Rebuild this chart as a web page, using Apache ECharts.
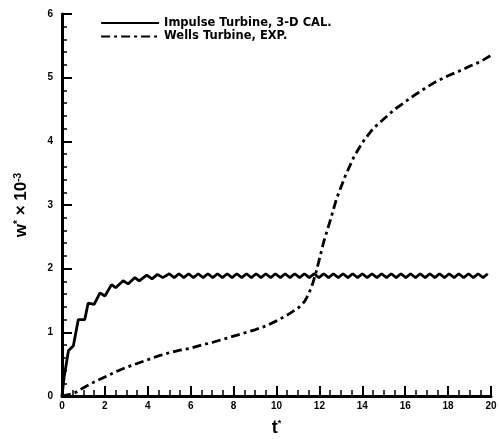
<!DOCTYPE html>
<html><head><meta charset="utf-8">
<script src="https://cdn.jsdelivr.net/npm/echarts@6/dist/echarts.min.js"></script>
<style>html,body{margin:0;padding:0;background:#fff}#c{width:499px;height:439px}</style>
</head><body><div id="c"></div>
<script>
const seriesNames = ['Impulse Turbine, 3-D CAL.', 'Wells Turbine, EXP.'];
const xTicks = [0, 2, 4, 6, 8, 10, 12, 14, 16, 18, 20];
const yTicks = [0, 1, 2, 3, 4, 5, 6];

const impulseT = [0, 0.1, 0.3, 0.53, 0.76, 1.06, 1.22, 1.5, 1.77, 2.0, 2.31, 2.5, 2.85, 3.08, 3.4, 3.6, 3.95, 4.2, 4.45, 4.7,
  5.0, 5.23, 5.45, 5.68, 5.9, 6.13, 6.35, 6.58, 6.8, 7.03, 7.25, 7.48, 7.7, 7.93, 8.15, 8.38, 8.6, 8.83, 9.05, 9.28,
  9.5, 9.73, 9.95, 10.18, 10.4, 10.63, 10.85, 11.08, 11.3, 11.53, 11.75, 11.98, 12.2, 12.43, 12.65, 12.88, 13.1, 13.33,
  13.55, 13.78, 14.0, 14.23, 14.45, 14.68, 14.9, 15.13, 15.35, 15.58, 15.8, 16.03, 16.25, 16.48, 16.7, 16.93, 17.15,
  17.38, 17.6, 17.83, 18.05, 18.28, 18.5, 18.73, 18.95, 19.18, 19.4, 19.63, 19.85];
const impulseW = [0, 0.3, 0.71, 0.79, 1.2, 1.2, 1.46, 1.44, 1.62, 1.57, 1.75, 1.7, 1.81, 1.76, 1.86, 1.81, 1.9, 1.84, 1.91, 1.86,
  1.92, 1.86, 1.92, 1.86, 1.92, 1.86, 1.92, 1.86, 1.92, 1.86, 1.92, 1.86, 1.92, 1.86, 1.92, 1.86, 1.92, 1.86, 1.92, 1.86,
  1.92, 1.86, 1.92, 1.86, 1.92, 1.86, 1.92, 1.86, 1.92, 1.86, 1.92, 1.86, 1.92, 1.86, 1.92, 1.86, 1.92, 1.86,
  1.92, 1.86, 1.92, 1.86, 1.92, 1.86, 1.92, 1.86, 1.92, 1.86, 1.92, 1.86, 1.92, 1.86, 1.92, 1.86, 1.92,
  1.86, 1.92, 1.86, 1.92, 1.86, 1.92, 1.86, 1.92, 1.86, 1.92, 1.86, 1.92];

const wellsT = [0, 0.3, 0.6, 1.0, 1.5, 2.0, 2.5, 3.0, 3.5, 4.0, 4.5, 5.0, 5.5, 6.0, 6.5, 7.0, 7.5, 8.0, 8.5, 9.0, 9.5,
  10.0, 10.5, 11.0, 11.3, 11.5, 11.7, 11.85, 12.0, 12.2, 12.5, 12.8, 13.2, 13.6, 14.0, 14.5, 15.0, 15.5, 16.0,
  16.5, 17.0, 17.5, 18.0, 18.5, 19.0, 19.5, 20.0];
const wellsW = [0, 0.02, 0.05, 0.13, 0.22, 0.3, 0.38, 0.45, 0.51, 0.57, 0.63, 0.68, 0.72, 0.75, 0.8, 0.84, 0.89, 0.94, 0.99, 1.04, 1.1,
  1.18, 1.27, 1.38, 1.48, 1.6, 1.78, 1.95, 2.15, 2.42, 2.75, 3.1, 3.45, 3.75, 3.98, 4.2, 4.35, 4.5, 4.62,
  4.74, 4.85, 4.95, 5.03, 5.1, 5.18, 5.25, 5.35];

const pairs = (xs, ys) => xs.map((x, i) => [x, ys[i]]);
const font = 'Liberation Sans, Arial, sans-serif';
const legendFont = 'DejaVu Sans, sans-serif';
const xMin = xTicks[0], xMax = xTicks[xTicks.length - 1];
const yMin = yTicks[0], yMax = yTicks[yTicks.length - 1];

const chart = echarts.init(document.getElementById('c'), null, {renderer: 'canvas'});
chart.setOption({
  animation: false,
  backgroundColor: '#fff',
  grid: {left: 62, right: 8, top: 14, bottom: 43, containLabel: false, outerBoundsMode: 'none'},
  legend: {
    orient: 'vertical', left: 95, top: 12, itemWidth: 58, itemHeight: 12, itemGap: 1.5,
    data: seriesNames,
    itemStyle: {opacity: 0},
    lineStyle: {width: 2.2},
    textStyle: {fontFamily: legendFont, fontWeight: 'bold', fontSize: 11.5, color: '#000'}
  },
  xAxis: [{
    type: 'value', min: xMin, max: xMax, interval: 2,
    name: '{t|t}{s|*}', nameLocation: 'middle', nameGap: 23,
    nameTextStyle: {rich: {
      t: {fontFamily: font, fontWeight: 'bold', fontSize: 18, color: '#000'},
      s: {fontFamily: font, fontWeight: 'bold', fontSize: 9, color: '#000', verticalAlign: 'top'}
    }},
    axisLine: {lineStyle: {color: '#000', width: 3}},
    axisTick: {show: true, inside: true, length: 10, lineStyle: {color: '#000', width: 2}},
    axisLabel: {margin: 5, fontFamily: font, fontWeight: 'bold', fontSize: 10, color: '#000'},
    splitLine: {show: false}, z: 5
  }, {
    type: 'value', min: xMin, max: xMax, interval: 0.5, position: 'bottom',
    axisLine: {show: false},
    axisTick: {show: true, inside: true, length: 6, lineStyle: {color: '#000', width: 1.5}},
    axisLabel: {show: false}, splitLine: {show: false}
  }],
  yAxis: [{
    type: 'value', min: yMin, max: yMax, interval: 1,
    name: '{w|w}{s|*}{w| × 10}{s|-3}', nameLocation: 'middle', nameGap: 32, nameRotate: 90,
    nameTextStyle: {rich: {
      w: {fontFamily: font, fontWeight: 'bold', fontSize: 17, color: '#000'},
      s: {fontFamily: font, fontWeight: 'bold', fontSize: 10, color: '#000', verticalAlign: 'top'}
    }},
    axisLine: {show: true, lineStyle: {color: '#000', width: 3}},
    axisTick: {show: true, inside: true, length: 10, lineStyle: {color: '#000', width: 2}},
    axisLabel: {margin: 9, fontFamily: font, fontWeight: 'bold', fontSize: 10, color: '#000'},
    splitLine: {show: false}, z: 5
  }, {
    type: 'value', min: yMin, max: yMax, interval: 0.2, position: 'left',
    axisLine: {show: false},
    axisTick: {show: true, inside: true, length: 5, lineStyle: {color: '#000', width: 1.5}},
    axisLabel: {show: false}, splitLine: {show: false}
  }],
  series: [
    {name: seriesNames[0], type: 'line', symbol: 'none', data: pairs(impulseT, impulseW),
     lineStyle: {color: '#000', width: 2.8}, itemStyle: {color: '#000'}},
    {name: seriesNames[1], type: 'line', symbol: 'none', data: pairs(wellsT, wellsW),
     lineStyle: {color: '#000', width: 2.8, type: [9, 4, 3, 4]}, itemStyle: {color: '#000'}}
  ]
});
</script>
</body></html>
